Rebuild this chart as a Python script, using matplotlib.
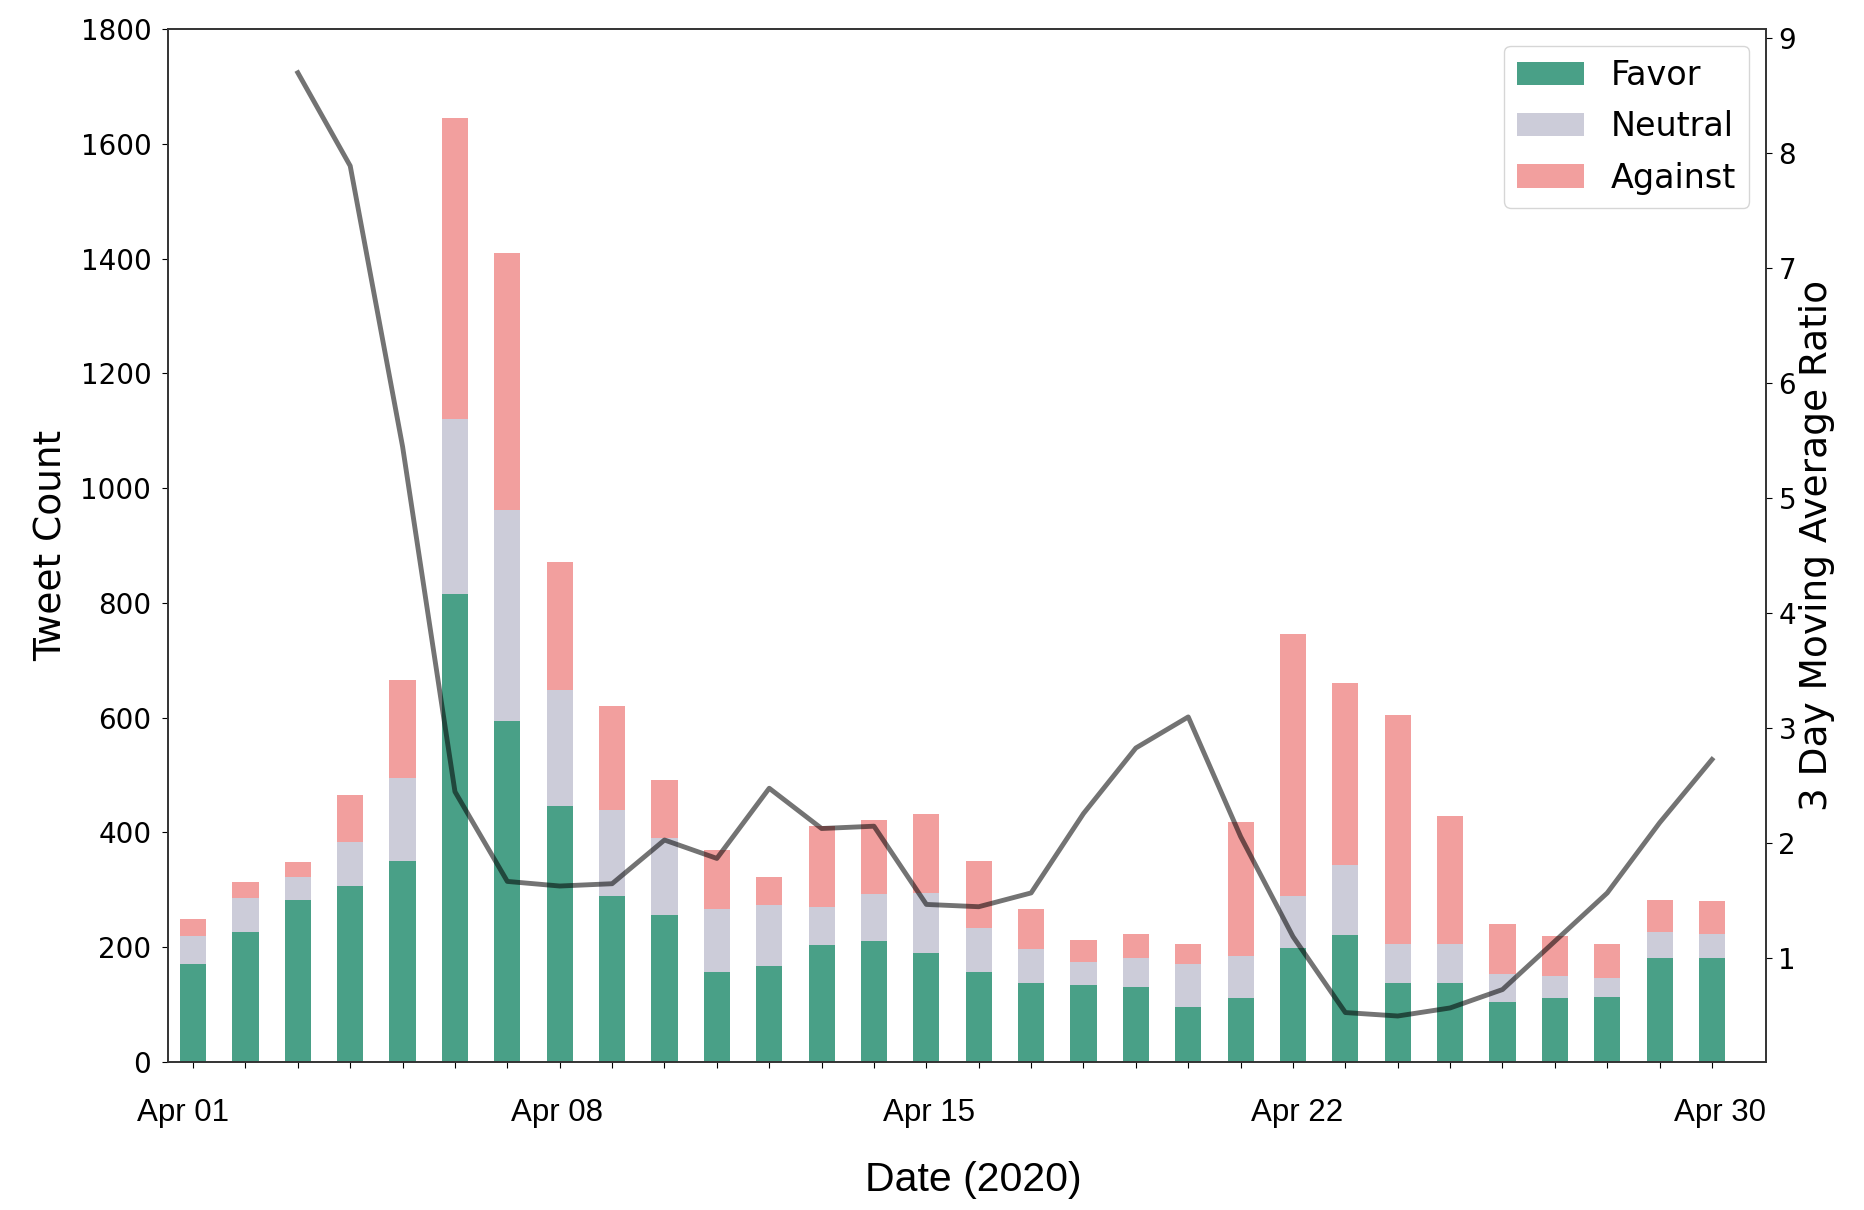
import matplotlib
matplotlib.use('Agg')
import matplotlib.pyplot as plt
import matplotlib.transforms as mtransforms
import numpy as np

# daily tweet counts, Apr 01 .. Apr 30 2020
days = ['Apr %02d' % d for d in range(1, 31)]
favor = [171, 227, 283, 307, 350, 816, 595, 446, 289, 257,
         157, 167, 204, 211, 190, 157, 138, 135, 131, 95,
         111, 198, 221, 138, 138, 104, 111, 114, 181, 181]
neutral_top = [220, 286, 322, 383, 495, 1121, 962, 648, 439, 390,
               267, 273, 270, 293, 294, 233, 197, 174, 181, 170,
               184, 290, 343, 206, 206, 153, 150, 147, 226, 223]
against_top = [250, 313, 349, 466, 665, 1645, 1410, 872, 621, 492,
               369, 322, 412, 422, 432, 350, 267, 213, 223, 206,
               418, 745, 661, 605, 429, 240, 220, 206, 283, 280]
neutral = [n - f for n, f in zip(neutral_top, favor)]
against = [a - n for a, n in zip(against_top, neutral_top)]

# 3 day moving average ratio (starts on Apr 03)
ratio = [np.nan, np.nan, 8.70, 7.89, 5.45, 2.45, 1.67, 1.63, 1.65, 2.03,
         1.87, 2.48, 2.13, 2.15, 1.47, 1.45, 1.57, 2.26, 2.83, 3.10,
         2.06, 1.19, 0.53, 0.50, 0.57, 0.73, 1.15, 1.57, 2.18, 2.73]
shown_ticks = [0, 7, 14, 21, 29]
label_shift = {0: -10, 7: -3, 14: 3, 21: 4, 29: 8}   # px, labels were placed by hand

c_favor = '#49a087'
c_neutral = '#ccccd9'
c_against = '#f29f9e'

fig = plt.figure(figsize=(18.64, 12.10), dpi=100)
ax = fig.add_axes([0.0901, 0.1223, 0.9474 - 0.0901, 0.976 - 0.1223])
x = np.arange(len(days))

ax.bar(x, favor, width=0.5, color=c_favor, label='Favor')
ax.bar(x, neutral, width=0.5, bottom=favor, color=c_neutral, label='Neutral')
ax.bar(x, against, width=0.5, bottom=neutral_top, color=c_against, label='Against')

ax.set_ylim(0, 1800)
ax.set_yticks(range(0, 1801, 200))
ax.set_xlim(-0.48, 30.03)
ax.set_xticks(x)
ax.tick_params(axis='x', pad=22, length=4)
ax.tick_params(axis='y', labelsize=20, pad=8, length=4)
ax.set_xticklabels([days[i] if i in shown_ticks else '' for i in x],
                   family='Liberation Sans', fontsize=22.5)
# shift after tick_params, which resets the label transforms
for i, lab in enumerate(ax.get_xticklabels()):
    if i in label_shift:
        off = mtransforms.ScaledTranslation(label_shift[i] / 100, 0, fig.dpi_scale_trans)
        lab.set_transform(lab.get_transform() + off)
ax.set_ylabel('Tweet Count', fontsize=27, labelpad=8)

ax2 = ax.twinx()
ax2.plot(x, ratio, color='black', alpha=0.55, lw=3.5)
ax2.set_ylim(0.10, 9.08)
ax2.set_yticks(range(1, 10))
ax2.tick_params(axis='y', labelsize=20, pad=5, length=4)
ax2.set_ylabel('3 Day Moving Average Ratio', fontsize=27, labelpad=2)

for a in (ax, ax2):
    for s in a.spines.values():
        s.set_color('#333333')
        s.set_linewidth(1.2)

ax.legend(loc='upper right', fontsize=24, labelspacing=0.55)
fig.text(0.522, 0.025, 'Date (2020)', family='Liberation Sans', fontsize=29.5,
         ha='center', va='center')

fig.savefig('out.png', dpi=100)
